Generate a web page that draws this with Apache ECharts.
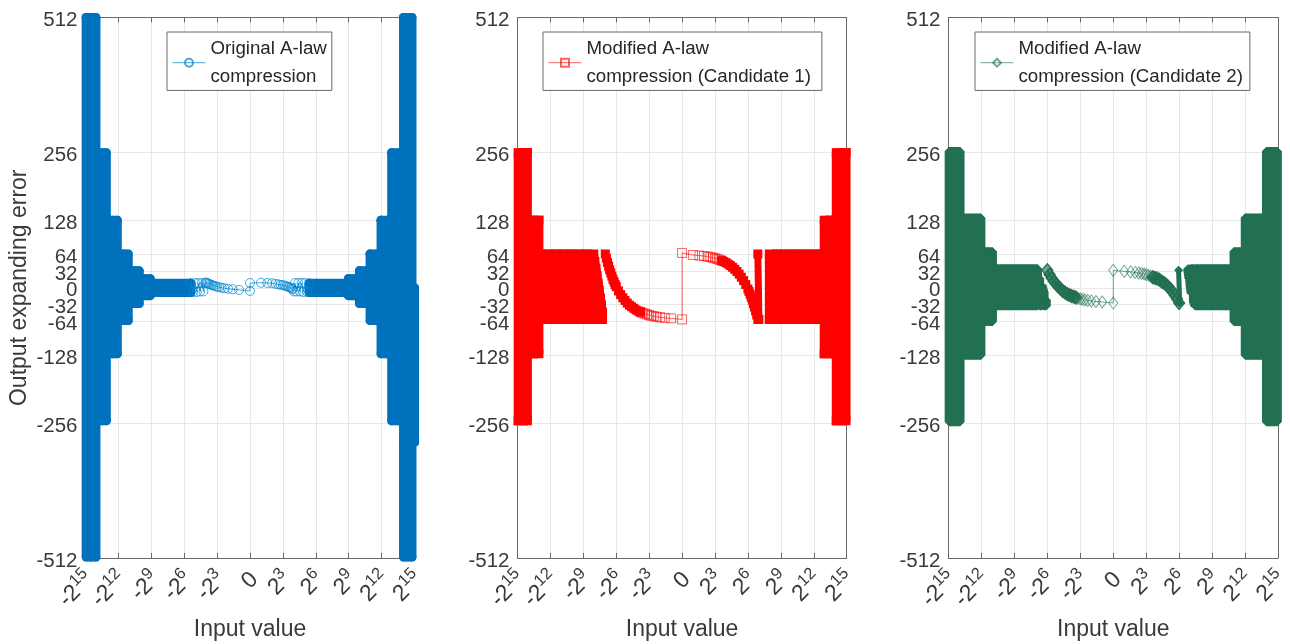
<!DOCTYPE html>
<html><head><meta charset="utf-8">
<style>html,body{margin:0;padding:0;background:#fff}#c{width:1290px;height:644px}</style>
<script src="https://cdn.jsdelivr.net/npm/echarts@6/dist/echarts.min.js"></script>
</head><body><div id="c"></div>
<script>
// x values are stored on the chart's signed log2 scale (u = ±log2|input|)
const xTicksOdd = [-15,-9,-3,3,9,15];
const xTicksEven = [-12,-6,0,6,12];
const yTicks = [-512,-256,-128,-64,-32,0,32,64,128,256,512];
const seriesNames = ['Original A-law\ncompression','Modified A-law\ncompression (Candidate 1)','Modified A-law\ncompression (Candidate 2)'];

// Panel 1: saturated envelope of the saw-tooth error
const originalBand = [
[-14.94,512],[-14.05,512],[-14.05,-510],[-14.94,-510],[-14.94,512],[-14.5,512],[-14.5,-510],null,
[-13.9,256],[-13.1,256],[-13.1,-252],[-13.9,-252],[-13.9,256],[-13.5,256],[-13.5,-252],null,
[-12.9,128],[-12.1,128],[-12.1,-125],[-12.9,-125],[-12.9,128],[-12.5,128],[-12.5,-125],null,
[-11.9,64],[-11.1,64],[-11.1,-62],[-11.9,-62],[-11.9,64],[-11.5,64],[-11.5,-62],null,
[-10.9,32],[-10.1,32],[-10.1,-30],[-10.9,-30],[-10.9,32],[-10.5,32],[-10.5,-30],null,
[-9.9,17],[-9.1,17],[-9.1,-15],[-9.9,-15],[-9.9,17],[-9.5,17],[-9.5,-15],null,
[-8.9,8.5],[-5.4,8.5],[-5.4,-9],[-8.9,-9],[-8.9,0],[-5.4,0],null,
[5.4,8.5],[8.9,8.5],[8.9,-9],[5.4,-9],[5.4,0],[8.9,0],null,
[8.98,17],[9.9,17],[9.9,-15],[8.98,-15],[8.98,17],[9.5,17],[9.5,-15],null,
[9.98,32],[10.9,32],[10.9,-30],[9.98,-30],[9.98,32],[10.5,32],[10.5,-30],null,
[10.95,64],[11.9,64],[11.9,-62],[10.95,-62],[10.95,64],[11.5,64],[11.5,-62],null,
[11.95,128],[12.9,128],[12.9,-125],[11.95,-125],[11.95,128],[12.5,128],[12.5,-125],null,
[12.92,256],[13.9,256],[13.9,-252],[12.92,-252],[12.92,256],[13.5,256],[13.5,-252],null,
[14,512],[14.77,512],[14.77,-510],[14,-510],[14,512],[14.4,512],[14.4,-510],null,
[15,0],[15,-293]
];
const originalCurve = [
[-5.4,8.5],[-5.2,-8],[-5,9],[-4.85,-8],[-4.7,9],[-4.55,-7],[-4.4,9],[-4.25,-7],[-4.1,9],[-4,10],[-3.91,9],[-3.81,8],[-3.7,7],[-3.58,6],[-3.46,5],[-3.32,4],[-3.17,3],[-3,2],[-2.81,1],[-2.58,0],[-2.32,-1],[-2,-2],[-1.58,-3],[-1,-4],[0,-6],
[0,9],[1,9.5],[1.58,9],[2,8.5],[2.32,7.5],[2.58,6.5],[2.81,5.5],[3,5],[3.17,4],[3.32,3],[3.46,2],[3.58,1],[3.7,0],[3.81,-1.5],[3.91,-3],[4,-7],
[4.1,9],[4.25,-7],[4.4,9],[4.55,-7],[4.7,9],[4.85,-8],[5,9],[5.2,-8],[5.4,8.5]
];

// Panel 2
const candidate1Band = [
[-14.94,256],[-14.94,-252],[-14.5,-252],[-14.5,256],[-14.1,256],[-14.1,-252],null,
[-13.9,128],[-13.9,-125],[-13.5,-125],[-13.5,128],[-13.05,128],[-13.05,-125],null,
[-12.9,64],[-12.9,-60],[-12.2,-60],[-12.2,64],[-11.5,64],[-11.5,-60],[-10.8,-60],[-10.8,64],[-10.1,64],[-10.1,-60],[-9.4,-60],[-9.4,64],[-8.7,64],[-8.7,-60],[-8.05,-60],[-8.05,64],null,
[-7.95,50],[-7.95,-60],[-7.85,-60],[-7.85,37],[-7.75,23],[-7.75,-60],[-7.65,-60],[-7.65,9],[-7.55,-5],[-7.55,-60],[-7.45,-60],[-7.45,-19],[-7.35,-32],[-7.35,-60],[-7.25,-60],[-7.25,-46],null,
[7.95,64],[7.95,-60],[8.65,-60],[8.65,64],[9.35,64],[9.35,-60],[10.05,-60],[10.05,64],[10.75,64],[10.75,-60],[11.45,-60],[11.45,64],[12.15,64],[12.15,-60],[12.85,-60],[12.85,64],null,
[12.95,128],[12.95,-125],[13.5,-125],[13.5,128],[13.95,128],[13.95,-125],null,
[14.05,256],[14.05,-252],[14.5,-252],[14.5,256],[14.94,256],[14.94,-252]
];
const candidate1Fill = [
[-7,64],[-6.9,56],[-6.8,48],[-6.7,41],[-6.6,34],[-6.5,28],[-6.4,22],[-6.3,16],[-6.2,11],[-6.1,6],[-6,2],[-5.8,-6],[-5.6,-13],[-5.4,-19],[-5.2,-24],[-5,-29],[-4.8,-33],[-4.6,-36],[-4.4,-39],[-4.2,-42],[-4,-44],[-3.8,-46],null,
[3.6,51.4],[3.8,49.5],[4,47.4],[4.2,44.9],[4.4,42],[4.6,38.8],[4.8,35],[5,30.8],[5.2,25.8],[5.4,20],[5.6,13.6],[5.8,6],[6,-2.5],[6.1,-7],[6.2,-12.4],[6.3,-18],[6.4,-23.7],[6.5,-30],[6.6,-36.7],[6.7,-44],[6.8,-51.7],[6.9,-60],null,
[6.9,64],[7,-60]
];
const candidate1Curve = [
[-3.8,-46],[-3.6,-47.6],[-3.4,-49],[-3.2,-50.5],[-3,-52],[-2.81,-53],[-2.58,-54],[-2.32,-55],[-2,-56],[-1.58,-57],[-1,-58],[0,-60],
[0,66],[1,62],[1.58,61],[2,60],[2.32,59],[2.58,58],[2.81,57],[3,55.7],[3.2,54.5],[3.4,53],[3.6,51.4]
];

// Panel 3
const candidate2Band = [
[-14.94,258],[-13.95,258],[-13.95,-254],[-14.94,-254],[-14.94,258],[-14.45,258],[-14.45,-254],null,
[-13.7,132],[-12.05,132],[-12.05,-128],[-13.7,-128],[-13.7,132],[-13,132],[-13,-128],[-12.5,-128],[-12.5,132],null,
[-11.9,68],[-11,68],[-11,-64],[-11.9,-64],[-11.9,68],[-11.45,68],[-11.45,-64],null,
[-10.8,36],[-6.9,36],[-6.9,-34],[-10.8,-34],[-10.8,36],[-10.1,36],[-10.1,-34],[-9.4,-34],[-9.4,36],[-8.7,36],[-8.7,-34],[-8,-34],[-8,36],[-7.4,36],[-7.4,-34],null,
[-6.7,18],[-6.7,-34],[-6.5,-34],[-6.5,4],[-6.3,-10],[-6.3,-34],[-6.1,-34],[-6.1,-23],null,
[6.8,36],[6.8,32],[6.9,18],[6.9,36],[7,36],[7,4],[7.1,-10],[7.1,36],[7.3,36],[7.3,-25],[7.45,-34],[7.45,36],[10.8,36],[10.8,-34],[7.45,-34],[8,-34],[8,36],[8.7,36],[8.7,-34],[9.4,-34],[9.4,36],[10.1,36],[10.1,-34],null,
[11,68],[11.95,68],[11.95,-64],[11,-64],[11,68],[11.5,68],[11.5,-64],null,
[12.02,132],[13.9,132],[13.9,-128],[12.02,-128],[12.02,132],[12.7,132],[12.7,-128],[13.3,-128],[13.3,132],null,
[13.95,258],[14.94,258],[14.94,-254],[13.95,-254],[13.95,258],[14.45,258],[14.45,-254]
];
const candidate2Fill = [[5.95,33],[6.05,-29]];
const candidate2Heavy = [
[-6,33],[-5.8,25],[-5.6,18],[-5.4,12],[-5.2,7],[-5,2],[-4.8,-2],[-4.6,-6],[-4.4,-9],[-4.2,-12],[-4,-13.5],[-3.8,-15.5],[-3.6,-17],[-3.4,-18.5],null,
[3.6,20],[3.8,18.5],[4,17.5],[4.2,15],[4.4,12],[4.6,9.5],[4.8,6],[5,2],[5.2,-2.6],[5.4,-8],[5.6,-14],[5.8,-21],[6,-29]
];
const candidate2Curve = [
[-3.4,-18.5],[-3.2,-20],[-3,-21],[-2.81,-22],[-2.58,-23],[-2.32,-24],[-2,-25],[-1.58,-26],[-1,-27],[0,-29],
[0,33],[1,31],[1.58,30],[2,29],[2.32,28],[2.58,27],[2.81,26],[3,25],[3.2,23.6],[3.4,22],[3.6,20]
];

const FONT = 'Liberation Sans';
const TXT = '#3a3a3a', AXIS = '#6a6a6a', GRID = '#e8e8e8';
const panels = [
 {left:85.5, right:414.5, legendLeft:167, legendRightPad:5, symbol:'circle', size:9, bandSize:9, solid:'#0071bc', thin:'rgba(0,135,210,0.72)', join:'round', band:originalBand, fill:[], fillW:4, heavy:[], curve:originalCurve},
 {left:517.5, right:846.7, legendLeft:543, legendRightPad:11, symbol:'rect', size:9, bandSize:9, solid:'#ff0000', thin:'rgba(255,0,0,0.62)', join:'miter', band:candidate1Band, fill:candidate1Fill, fillW:7, heavy:[], curve:candidate1Curve},
 {left:948.5, right:1278, legendLeft:975, legendRightPad:7, symbol:'diamond', size:[9,12], bandSize:9, solid:'#217051', thin:'rgba(33,112,81,0.62)', join:'bevel', band:candidate2Band, fill:candidate2Fill, fillW:5, heavy:candidate2Heavy, curve:candidate2Curve}
];
const xLabel = v => v === 0 ? '{a|0}' : `{a|${v<0?'-':''}2}{s|${Math.abs(v)}}`;
const xLabelStyle = values => ({show:true,rotate:45,margin:26,padding:[0,-9,0,0],formatter:xLabel,hideOverlap:false,customValues:values,
  rich:{a:{fontFamily:FONT,fontSize:23,color:TXT,verticalAlign:'bottom',lineHeight:18},
        s:{fontFamily:FONT,fontSize:16.5,color:TXT,verticalAlign:'bottom',lineHeight:1,padding:[0,0,10,0]}}});
const grid=[], xAxis=[], yAxis=[], series=[], legend=[];
panels.forEach((p,i)=>{
  grid.push({left:p.left, width:p.right-p.left, top:17.5, height:540.5, outerBoundsMode:'none'});
  const xi=xAxis.length, yi=yAxis.length;
  const line={show:true,onZero:false,lineStyle:{color:AXIS,width:1}};
  const commonX={type:'value',gridIndex:i,min:-15,max:15,interval:3,axisLine:line,axisTick:{show:true,inside:true,length:5,lineStyle:{color:AXIS}}};
  xAxis.push({...commonX,position:'bottom',name:'Input value',nameLocation:'middle',nameGap:58,
    nameTextStyle:{fontFamily:FONT,fontSize:23,color:TXT},
    splitLine:{show:true,lineStyle:{color:GRID}},
    axisLabel:xLabelStyle(xTicksOdd)});
  xAxis.push({...commonX,position:'top',splitLine:{show:false},axisLabel:{show:false}});
  xAxis.push({...commonX,position:'bottom',axisLine:{show:false},axisTick:{show:false},splitLine:{show:false},axisLabel:xLabelStyle(xTicksEven)});
  const commonY={type:'value',gridIndex:i,min:-512,max:512,axisLine:line,
    axisTick:{show:true,inside:true,length:5,lineStyle:{color:AXIS},customValues:yTicks}};
  yAxis.push({...commonY,position:'left',
    name:i===0?'Output expanding error':'',nameLocation:'middle',nameGap:54,
    nameTextStyle:{fontFamily:FONT,fontSize:23,color:TXT},
    splitLine:{show:true,lineStyle:{color:GRID}},
    axisLabel:{show:true,margin:8,verticalAlign:'top',lineHeight:6,fontFamily:FONT,fontSize:20.5,color:TXT,customValues:yTicks,hideOverlap:false}});
  yAxis.push({...commonY,position:'right',splitLine:{show:false},axisLabel:{show:false}});
  const base={type:'line',xAxisIndex:xi,yAxisIndex:yi,clip:false,animation:false,silent:true,connectNulls:false,legendHoverLink:false};
  series.push({...base,name:'band '+i,data:p.band,symbol:p.symbol,symbolSize:p.bandSize,showSymbol:true,showAllSymbol:true,
    itemStyle:{color:p.solid},
    lineStyle:{color:p.solid,width:9,join:p.join,cap:p.join==='round'?'round':'butt'},z:3});
  if(p.fill.length) series.push({...base,name:'fill '+i,data:p.fill,symbol:p.symbol,symbolSize:p.bandSize,showSymbol:true,showAllSymbol:true,
    itemStyle:{color:p.solid},lineStyle:{color:p.solid,width:p.fillW},z:3});
  if(p.heavy.length) series.push({...base,name:'heavy '+i,data:p.heavy,symbol:p.symbol,symbolSize:[11,13],showSymbol:true,showAllSymbol:true,
    itemStyle:{color:'rgba(33,112,81,0.62)',borderColor:p.solid,borderWidth:1.3},lineStyle:{color:p.solid,width:1.5},z:4});
  series.push({...base,name:seriesNames[i],data:p.curve,symbol:p.symbol,symbolSize:p.size,showSymbol:true,showAllSymbol:true,
    itemStyle:{color:'rgba(0,0,0,0)',borderColor:p.thin,borderWidth:1},
    lineStyle:{color:p.thin,width:1},z:4});
  legend.push({data:[seriesNames[i]],left:p.legendLeft,top:32,orient:'vertical',padding:[3,p.legendRightPad,0,5],
    itemWidth:33,itemHeight:10,backgroundColor:'#fff',borderColor:AXIS,borderWidth:1,borderRadius:0,selectedMode:false,z:6,
    lineStyle:{width:1},
    textStyle:{fontFamily:FONT,fontSize:18.7,lineHeight:27.7,color:'#262626'}});
});
const chart=echarts.init(document.getElementById('c'),null,{renderer:'canvas'});
chart.setOption({backgroundColor:'#fff',animation:false,grid,xAxis,yAxis,series,legend});
</script></body></html>
